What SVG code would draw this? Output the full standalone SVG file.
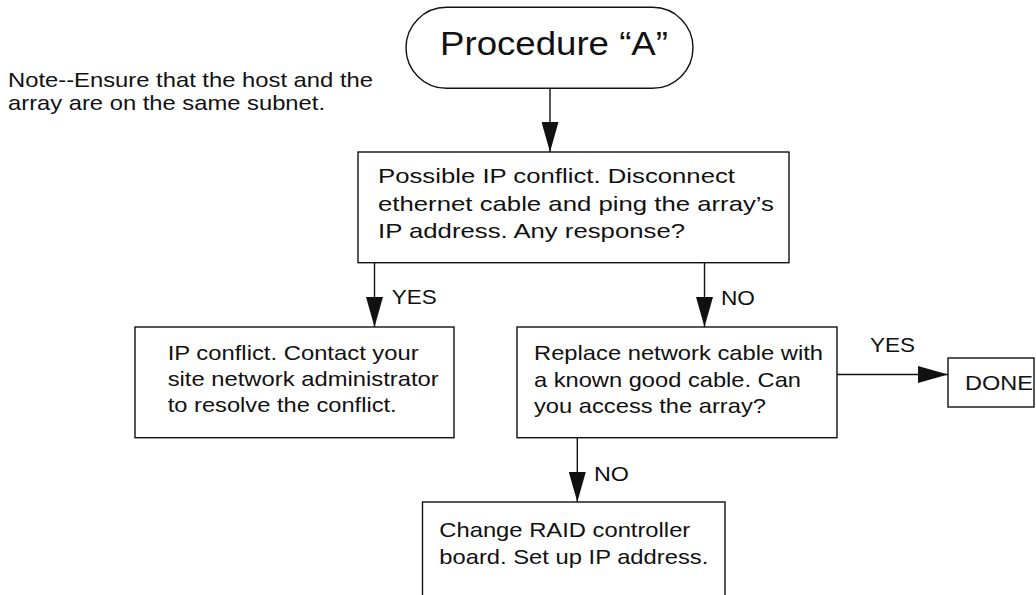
<svg xmlns="http://www.w3.org/2000/svg" width="1036" height="595" viewBox="0 0 1036 595">
<style>
.box{fill:#fff;stroke:#111;stroke-width:1.4}
.t{font-family:"Liberation Sans",Arial,Helvetica,sans-serif;font-size:21px;fill:#111}
.big{font-size:34px}
.c{fill:none;stroke:#111;stroke-width:1.4}
</style>
<defs>
<marker id="ah" viewBox="0 0 30 17" refX="30" refY="8.5" markerWidth="30" markerHeight="17" markerUnits="userSpaceOnUse" orient="auto">
<path d="M0,0 L30,8.5 L0,17 Z" fill="#111"/>
</marker>
</defs>
<rect width="1036" height="595" fill="#fff"/>
<g id="note">
<text class="t" x="8" y="87" textLength="365" lengthAdjust="spacingAndGlyphs">Note--Ensure that the host and the</text>
<text class="t" x="8" y="110" textLength="317" lengthAdjust="spacingAndGlyphs">array are on the same subnet.</text>
</g>
<g id="connectors">
<line class="c" x1="550" y1="88.3" x2="550" y2="152" marker-end="url(#ah)"/>
<line class="c" x1="374.5" y1="262.7" x2="374.5" y2="327" marker-end="url(#ah)"/>
<line class="c" x1="704.5" y1="262.7" x2="704.5" y2="327" marker-end="url(#ah)"/>
<line class="c" x1="836.8" y1="374.5" x2="948" y2="374.5" marker-end="url(#ah)"/>
<line class="c" x1="577.3" y1="437.7" x2="577.3" y2="502" marker-end="url(#ah)"/>
<text class="t" x="391.7" y="304" textLength="45" lengthAdjust="spacingAndGlyphs">YES</text>
<text class="t" x="721" y="305" textLength="34" lengthAdjust="spacingAndGlyphs">NO</text>
<text class="t" x="870" y="352" textLength="45" lengthAdjust="spacingAndGlyphs">YES</text>
<text class="t" x="594" y="480.7" textLength="35" lengthAdjust="spacingAndGlyphs">NO</text>
</g>
<g id="start">
<rect class="box" x="406" y="7.3" width="287" height="81" rx="40.5" ry="40.5"/>
<text class="t big" x="440" y="55" textLength="228" lengthAdjust="spacingAndGlyphs">Procedure “A”</text>
</g>
<g id="ipconflict-check">
<rect class="box" x="358" y="152" width="431" height="110.7"/>
<text class="t" x="378" y="183" textLength="357" lengthAdjust="spacingAndGlyphs">Possible IP conflict. Disconnect</text>
<text class="t" x="378" y="210.5" textLength="396" lengthAdjust="spacingAndGlyphs">ethernet cable and ping the array’s</text>
<text class="t" x="378" y="237.5" textLength="307" lengthAdjust="spacingAndGlyphs">IP address. Any response?</text>
</g>
<g id="ipconflict-contact">
<rect class="box" x="135" y="327" width="319" height="110.7"/>
<text class="t" x="167.7" y="360" textLength="251" lengthAdjust="spacingAndGlyphs">IP conflict. Contact your</text>
<text class="t" x="167.7" y="386" textLength="271" lengthAdjust="spacingAndGlyphs">site network administrator</text>
<text class="t" x="167.7" y="412" textLength="229" lengthAdjust="spacingAndGlyphs">to resolve the conflict.</text>
</g>
<g id="replace-cable">
<rect class="box" x="517" y="327" width="320" height="110.7"/>
<text class="t" x="534" y="360" textLength="289" lengthAdjust="spacingAndGlyphs">Replace network cable with</text>
<text class="t" x="534" y="386.5" textLength="267" lengthAdjust="spacingAndGlyphs">a known good cable. Can</text>
<text class="t" x="534" y="412.5" textLength="232" lengthAdjust="spacingAndGlyphs">you access the array?</text>
</g>
<g id="done">
<rect class="box" x="948" y="358" width="86" height="49"/>
<text class="t" x="965" y="390" textLength="68" lengthAdjust="spacingAndGlyphs">DONE</text>
</g>
<g id="change-raid">
<rect class="box" x="422.5" y="502" width="302.5" height="120"/>
<text class="t" x="439.3" y="536.5" textLength="251" lengthAdjust="spacingAndGlyphs">Change RAID controller</text>
<text class="t" x="439.3" y="564" textLength="269" lengthAdjust="spacingAndGlyphs">board. Set up IP address.</text>
</g>
</svg>
